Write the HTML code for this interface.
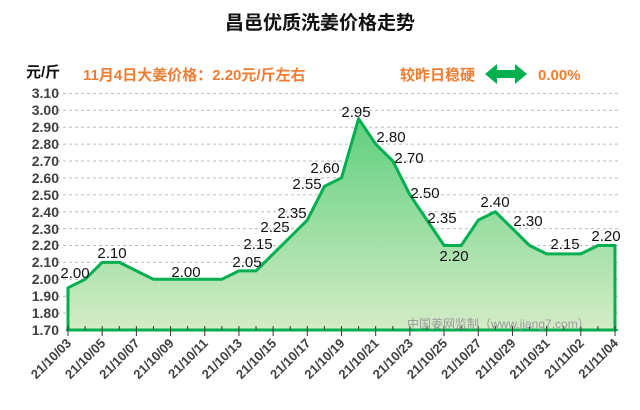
<!DOCTYPE html><html><head><meta charset="utf-8"><style>body{margin:0;background:#fff}svg{display:block}</style></head><body>
<svg width="640" height="410" xmlns="http://www.w3.org/2000/svg" font-family="Liberation Sans, Noto Sans CJK SC, sans-serif">
<defs><linearGradient id="g" x1="0" y1="0" x2="0" y2="1"><stop offset="0" stop-color="#5fcf7f"/><stop offset="1" stop-color="#d4ecc6"/></linearGradient></defs>
<text x="320" y="29" text-anchor="middle" font-size="19" font-weight="bold" fill="#111">昌邑优质洗姜价格走势</text>
<text x="26" y="77" font-size="15" font-weight="bold" fill="#111">元/斤</text>
<text x="83" y="80" font-size="15" font-weight="bold" fill="#ee7d31">11月4日大姜价格：2.20元/斤左右</text>
<text x="400" y="80" font-size="15" font-weight="bold" fill="#ee7d31">较昨日稳硬</text>
<polygon points="485,74 497,64 497,70 515,70 515,64 527,74 515,84 515,78 497,78 497,84" fill="#00b050"/>
<text x="538" y="80" font-size="15" font-weight="bold" fill="#ee7d31">0.00%</text>
<g stroke="#bbb" stroke-dasharray="3,3" stroke-width="1">
<line x1="57" x2="618" y1="93.4" y2="93.4"/><line x1="57" x2="618" y1="110.3" y2="110.3"/><line x1="57" x2="618" y1="127.2" y2="127.2"/><line x1="57" x2="618" y1="144.1" y2="144.1"/><line x1="57" x2="618" y1="161" y2="161"/><line x1="57" x2="618" y1="177.9" y2="177.9"/><line x1="57" x2="618" y1="194.8" y2="194.8"/><line x1="57" x2="618" y1="211.7" y2="211.7"/><line x1="57" x2="618" y1="228.6" y2="228.6"/><line x1="57" x2="618" y1="245.5" y2="245.5"/><line x1="57" x2="618" y1="262.4" y2="262.4"/><line x1="57" x2="618" y1="279.3" y2="279.3"/><line x1="57" x2="618" y1="296.2" y2="296.2"/><line x1="57" x2="618" y1="313.1" y2="313.1"/>
</g>
<g font-size="14" font-weight="bold" fill="#404040" text-anchor="end">
<text x="59" y="98">3.10</text><text x="59" y="115">3.00</text><text x="59" y="132">2.90</text><text x="59" y="149">2.80</text><text x="59" y="166">2.70</text><text x="59" y="183">2.60</text><text x="59" y="200">2.50</text><text x="59" y="217">2.40</text><text x="59" y="234">2.30</text><text x="59" y="250">2.20</text><text x="59" y="267">2.10</text><text x="59" y="284">2.00</text><text x="59" y="301">1.90</text><text x="59" y="318">1.80</text><text x="59" y="335">1.70</text>
</g>
<polygon id="area" fill="url(#g)" stroke="#00b050" stroke-width="3" stroke-linejoin="round" points=""/>
<line x1="66" x2="618" y1="330" y2="330" stroke="#00b050" stroke-width="2"/>
<g id="ticks" stroke="#333" stroke-width="1"></g>
<g id="xl" font-size="13" font-weight="bold" fill="#404040"></g>
<text x="407" y="328" font-size="12" fill="#9a9a9a">中国姜网监制（www.jiang7.com）</text>
<g font-size="15" fill="#111" text-anchor="middle">
<text x="75" y="278">2.00</text><text x="112" y="258">2.10</text><text x="186" y="277">2.00</text><text x="247" y="267">2.05</text><text x="258" y="249">2.15</text><text x="275" y="232">2.25</text><text x="292" y="218">2.35</text><text x="307" y="189">2.55</text><text x="325" y="173">2.60</text><text x="356" y="117">2.95</text><text x="391" y="142">2.80</text><text x="409" y="163">2.70</text><text x="425" y="198">2.50</text><text x="442" y="223">2.35</text><text x="454" y="261">2.20</text><text x="495" y="207">2.40</text><text x="528" y="226">2.30</text><text x="565" y="249">2.15</text><text x="606" y="241">2.20</text>
</g>
<script>
var v=[1.95,2.00,2.10,2.10,2.05,2.00,2.00,2.00,2.00,2.00,2.05,2.05,2.15,2.25,2.35,2.55,2.60,2.95,2.80,2.70,2.50,2.35,2.20,2.20,2.35,2.40,2.30,2.20,2.15,2.15,2.15,2.20,2.20];
var s=547/32,pts=["68,330"];
for(var i=0;i<33;i++){pts.push((68+i*s).toFixed(1)+","+(330-(v[i]-1.7)*169).toFixed(1));}
pts.push("615,330");
document.getElementById("area").setAttribute("points",pts.join(" "));
var NS="http://www.w3.org/2000/svg",t=document.getElementById("ticks"),xl=document.getElementById("xl");
var labs=["21/10/03","21/10/05","21/10/07","21/10/09","21/10/11","21/10/13","21/10/15","21/10/17","21/10/19","21/10/21","21/10/23","21/10/25","21/10/27","21/10/29","21/10/31","21/11/02","21/11/04"];
for(var i=0;i<33;i++){var x=68+i*s,l=document.createElementNS(NS,"line");l.setAttribute("x1",x);l.setAttribute("x2",x);l.setAttribute("y1",326);l.setAttribute("y2",i%2?330:336);t.appendChild(l);}
for(var j=0;j<17;j++){var x=68+2*j*s+4,tx=document.createElementNS(NS,"text");tx.setAttribute("text-anchor","end");tx.setAttribute("transform","translate("+x+",344) rotate(-45)");tx.textContent=labs[j];xl.appendChild(tx);}
</script>
</svg></body></html>
